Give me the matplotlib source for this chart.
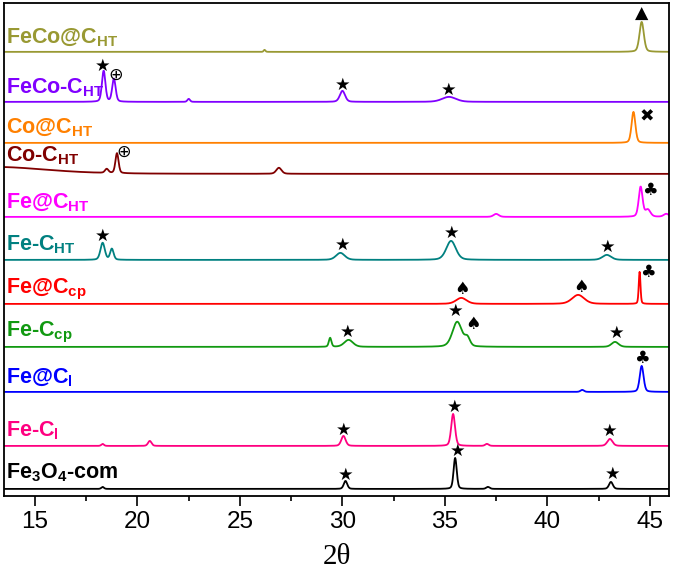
import numpy as np
import matplotlib
matplotlib.use("Agg")
import matplotlib.pyplot as plt
from matplotlib.ticker import MultipleLocator

plt.rcParams["font.family"] = ["Liberation Sans", "DejaVu Sans"]
plt.rcParams["mathtext.fontset"] = "custom"
plt.rcParams["mathtext.bf"] = "Liberation Sans:bold"
plt.rcParams["mathtext.rm"] = "Liberation Sans:bold"

# samples, top to bottom
labels = [r"FeCo@C$_\mathbf{HT}$", r"FeCo-C$_\mathbf{HT}$", r"Co@C$_\mathbf{HT}$",
          r"Co-C$_\mathbf{HT}$", r"Fe@C$_\mathbf{HT}$", r"Fe-C$_\mathbf{HT}$",
          r"Fe@C$_\mathbf{cp}$", r"Fe-C$_\mathbf{cp}$", r"Fe@C$_\mathbf{l}$",
          r"Fe-C$_\mathbf{l}$", r"Fe$_\mathbf{3}$O$_\mathbf{4}$-com"]
colors = ["#999933", "#8000FF", "#FF8000", "#800000", "#FF00FF", "#008080",
          "#FF0000", "#119911", "#0000FF", "#FF0080", "#000000"]
# baseline level of each pattern (stack offset)
offsets = [444, 394, 353, 322, 279, 236, 192, 149, 104, 50, 7]
label_y = [452, 402, 362, 334, 287, 245, 202, 160, 113, 60, 18]

# peaks: (2theta, height, fwhm)
peaks = [
    [(44.6, 30, 0.25), (26.2, 2, 0.1)],
    [(18.35, 31, 0.2), (18.85, 23, 0.2), (22.5, 3, 0.15), (30.0, 11, 0.3), (35.2, 5, 0.8)],
    [(44.2, 31, 0.22)],
    [(13.0, 7, 6.0), (18.5, 4, 0.2), (19.0, 20, 0.18), (26.9, 6, 0.3)],
    [(44.55, 30, 0.22), (44.9, 7, 0.3), (37.5, 3, 0.3), (45.8, 3, 0.3)],
    [(18.3, 17, 0.25), (18.75, 11, 0.2), (29.9, 7, 0.5), (35.3, 19, 0.55), (42.9, 5, 0.5)],
    [(35.8, 6, 0.6), (41.5, 9, 0.7), (44.5, 32, 0.1)],
    [(29.4, 9, 0.15), (30.3, 7, 0.5), (35.6, 25, 0.55), (36.1, 8, 0.3), (43.3, 5, 0.4)],
    [(44.6, 26, 0.22), (41.7, 2, 0.2)],
    [(18.3, 2, 0.15), (20.6, 5, 0.2), (30.05, 10, 0.25), (35.4, 32, 0.22), (37.05, 2, 0.2), (43.05, 7, 0.3)],
    [(18.3, 2, 0.15), (30.15, 8, 0.2), (35.5, 31, 0.18), (37.1, 2, 0.2), (43.1, 7, 0.22)],
]

# phase markers: (2theta, level, symbol)
markers = [
    [(44.6, 482, "\u25B2")],
    [(18.3, 430, "\u2605"), (18.95, 421, "\u2295"), (30.0, 411, "\u2605"), (35.2, 406, "\u2605")],
    [(44.86, 379, "\u2716")],
    [(19.34, 344, "\u2295")],
    [(45.0, 306, "\u2663")],
    [(18.3, 260, "\u2605"), (30.0, 251, "\u2605"), (35.34, 263, "\u2605"), (42.95, 249, "\u2605")],
    [(35.83, 207, "\u2660"), (41.63, 209, "\u2660"), (44.9, 224, "\u2663")],
    [(30.27, 164, "\u2605"), (35.55, 185, "\u2605"), (36.35, 172, "\u2660"), (43.4, 163, "\u2605")],
    [(44.6, 138, "\u2663")],
    [(30.07, 66, "\u2605"), (35.5, 89, "\u2605"), (43.05, 65, "\u2605")],
    [(30.17, 21, "\u2605"), (35.6, 45, "\u2605"), (43.2, 22, "\u2605")],
]

tt = np.arange(13.4, 46.0, 0.02)


def pattern(pk):
    y = np.zeros_like(tt)
    for p, h, w in pk:
        g = np.exp(-4 * np.log(2) * ((tt - p) / w) ** 2)
        lor = 1 / (1 + ((tt - p) / (w / 2)) ** 2)
        y += h * (0.7 * g + 0.3 * lor)
    return y


fig = plt.figure(figsize=(6.75, 5.72), dpi=100)
ax = fig.add_axes([0.006, 0.133, 0.985, 0.862])

for lab, col, off, ly, pk, mk in zip(labels, colors, offsets, label_y, peaks, markers):
    ax.plot(tt, off + pattern(pk), color=col, lw=1.3)
    ax.text(13.6, ly, lab, color=col, fontsize=15.5, fontweight="bold", va="baseline")
    for x, lvl, s in mk:
        ax.text(x, lvl, s, fontsize=12.5, ha="center", va="center", color="black",
                family=["DejaVu Sans"])

ax.set_xlim(13.49, 45.93)
ax.set_ylim(0, 493)
ax.set_yticks([])
ax.xaxis.set_major_locator(MultipleLocator(5))
ax.xaxis.set_minor_locator(MultipleLocator(2.5))
ax.tick_params(axis="x", which="major", length=7.5, width=1.2, labelsize=17.5, pad=3)
ax.tick_params(axis="x", which="minor", length=3.5, width=1.2)
for s in ax.spines.values():
    s.set_linewidth(1.3)
ax.set_xlabel("2\u03b8", fontsize=21, family="Liberation Serif", labelpad=8)

fig.savefig("out.png", dpi=100)
